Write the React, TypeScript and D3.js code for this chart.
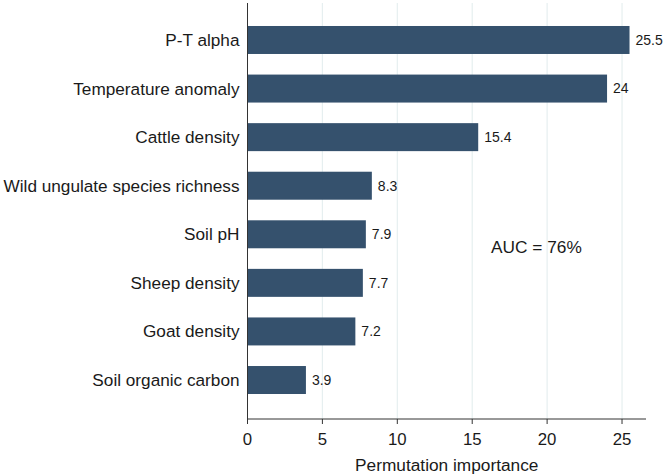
import React from "react";
import * as d3 from "d3";

const categories = [
  "P-T alpha",
  "Temperature anomaly",
  "Cattle density",
  "Wild ungulate species richness",
  "Soil pH",
  "Sheep density",
  "Goat density",
  "Soil organic carbon",
];
const values = [25.5, 24, 15.4, 8.3, 7.9, 7.7, 7.2, 3.9];
const valueLabels = ["25.5", "24", "15.4", "8.3", "7.9", "7.7", "7.2", "3.9"];
const xTicks = [0, 5, 10, 15, 20, 25];
const xTitle = "Permutation importance";
const annotation = "AUC = 76%";

const W = 666;
const H = 476;
const left = 247.5;
const right = 646;
const plotTop = 3;
const axisY = 419;
const FONT = "Arial, 'Liberation Sans', Helvetica, sans-serif";
const BAR = "#35516d";
const TEXT = "#1a1a1a";

export default function App() {
  const x = d3.scaleLinear().domain([0, 26.6]).range([left, right]);
  const y = d3
    .scaleBand<string>()
    .domain(categories)
    .range([15.7, 404.3])
    .paddingInner(0.424)
    .paddingOuter(0.212);

  return (
    <svg
      width={W}
      height={H}
      style={{ position: "absolute", left: 0, top: 0, background: "#fff" }}
      fontFamily={FONT}
    >
      {xTicks
        .filter((t) => t > 0)
        .map((t) => (
          <line
            key={"g" + t}
            x1={x(t)}
            x2={x(t)}
            y1={plotTop}
            y2={axisY}
            stroke="#e6eff0"
            strokeWidth={1.2}
          />
        ))}
      {categories.map((c, i) => (
        <g key={c}>
          <rect
            x={x(0)}
            y={y(c)}
            width={x(values[i]) - x(0)}
            height={y.bandwidth()}
            fill={BAR}
          />
          <text
            x={x(values[i]) + 6}
            y={(y(c) as number) + y.bandwidth() / 2}
            dy="0.35em"
            fontSize={14}
            fill={TEXT}
          >
            {valueLabels[i]}
          </text>
          <text
            x={left - 8}
            y={(y(c) as number) + y.bandwidth() / 2}
            dy="0.35em"
            fontSize={17.2}
            textAnchor="end"
            fill={TEXT}
          >
            {c}
          </text>
        </g>
      ))}
      <line x1={left} x2={left} y1={plotTop} y2={axisY} stroke="#333" strokeWidth={1} />
      <line x1={left} x2={right} y1={axisY} y2={axisY} stroke="#333" strokeWidth={1} />
      {xTicks.map((t) => (
        <g key={"t" + t}>
          <line x1={x(t)} x2={x(t)} y1={axisY} y2={axisY + 5} stroke="#333" strokeWidth={1} />
          <text
            x={x(t)}
            y={axisY + 20.5}
            dy="0.35em"
            fontSize={16.8}
            textAnchor="middle"
            fill={TEXT}
          >
            {t}
          </text>
        </g>
      ))}
      <text
        x={(left + right) / 2}
        y={465}
        dy="0.35em"
        fontSize={17.3}
        textAnchor="middle"
        fill={TEXT}
      >
        {xTitle}
      </text>
      <text x={491} y={247} dy="0.35em" fontSize={17.3} fill={TEXT}>
        {annotation}
      </text>
    </svg>
  );
}
